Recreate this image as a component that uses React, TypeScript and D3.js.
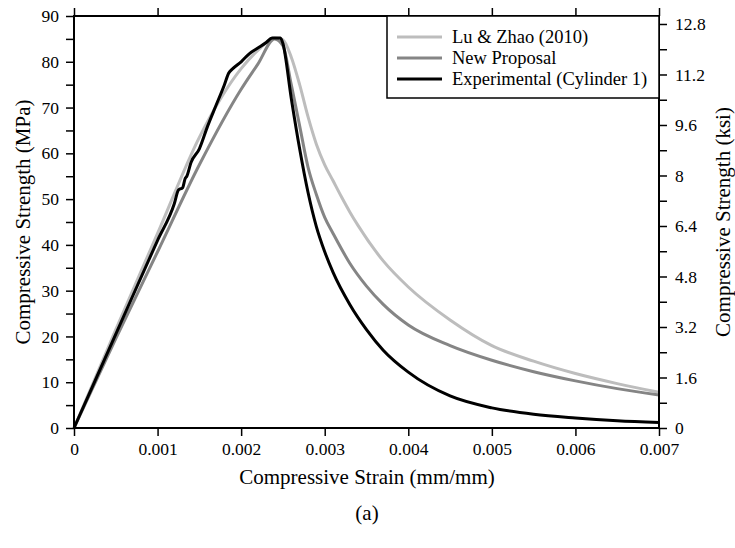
import React, { useRef, useEffect } from 'react';
import { select, scaleLinear, axisLeft, axisRight, axisBottom, axisTop, line, range, curveMonotoneX } from 'd3';

// strain (mm/mm) and stress (MPa)
const luStrain = [0, 0.0005, 0.001, 0.0015, 0.002, 0.0022, 0.0024, 0.0025, 0.0026, 0.0027, 0.0028, 0.0029, 0.003, 0.0031, 0.0032, 0.0033, 0.0034, 0.0037, 0.004, 0.0045, 0.005, 0.0055, 0.006, 0.0065, 0.007];
const luStress = [0, 21.5, 42.5, 63.5, 78.5, 82.5, 85.2, 84.8, 81, 75, 68, 62, 57.5, 54, 50.5, 47.2, 44.2, 36.5, 30.8, 23.6, 18, 14.6, 11.9, 9.7, 7.8];

const newStrain = [0, 0.0005, 0.001, 0.0015, 0.002, 0.0022, 0.0024, 0.0025, 0.0026, 0.0027, 0.0028, 0.0029, 0.003, 0.0031, 0.0033, 0.0035, 0.0037, 0.004, 0.0045, 0.005, 0.0055, 0.006, 0.0065, 0.007];
const newStress = [0, 19.5, 38.5, 57.5, 74, 79.5, 85, 83.5, 75, 66, 57, 51, 46, 42.5, 36, 31, 27, 22.5, 18, 14.8, 12.3, 10.3, 8.6, 7.2];

const expStrain = [0, 0.0005, 0.001, 0.0012, 0.00125, 0.0013, 0.00133, 0.00135, 0.0014, 0.0015, 0.0016, 0.0017, 0.0018, 0.00185, 0.0019, 0.002, 0.0021, 0.0022, 0.0023, 0.00237, 0.00247, 0.0025, 0.0026, 0.0027, 0.0028, 0.0029, 0.003, 0.0031, 0.0033, 0.0035, 0.0037, 0.004, 0.0045, 0.005, 0.0055, 0.006, 0.0065, 0.007];
const expStress = [0, 20.5, 41, 49, 52, 52.5, 54.5, 55, 58, 61, 66, 70.5, 75, 77.5, 78.5, 80, 81.8, 83, 84.2, 85.2, 85.2, 84, 72, 61, 51.5, 44, 38.5, 34, 27, 21.5, 17, 12.2, 7, 4.4, 3, 2.2, 1.6, 1.2];

const strainTicks = [0, 0.001, 0.002, 0.003, 0.004, 0.005, 0.006, 0.007];
const mpaTicks = [0, 10, 20, 30, 40, 50, 60, 70, 80, 90];
const ksiTicks = [0, 1.6, 3.2, 4.8, 6.4, 8, 9.6, 11.2, 12.8];

const seriesNames = ['Lu & Zhao (2010)', 'New Proposal', 'Experimental (Cylinder 1)'];
const seriesColors = ['#bdbdbd', '#858585', '#000000'];

const MPA_PER_KSI = 6.895;
const FONT = 'Liberation Serif';

export default function App() {
  const svgRef = useRef(null);

  useEffect(() => {
    const svg = select(svgRef.current);
    svg.selectAll('*').remove();

    const left = 74, right = 659, top = 16, bottom = 428;

    const x = scaleLinear().domain([0, 0.007]).range([left, right]);
    const y = scaleLinear().domain([0, 90]).range([bottom, top]);
    const yKsi = scaleLinear().domain([0, 90 / MPA_PER_KSI]).range([bottom, top]);

    const styleAxis = (g) => {
      g.attr('font-family', FONT).attr('font-size', 17.5);
      g.select('.domain').remove();
      g.selectAll('line').attr('stroke', '#000').attr('stroke-width', 1.5);
      g.selectAll('text').attr('fill', '#000');
    };

    // left: MPa, minor every 5
    svg.append('g').attr('transform', `translate(${left},0)`)
      .call(axisLeft(y).tickValues(range(0, 91, 5)).tickSize(8).tickPadding(7)
        .tickFormat(d => (mpaTicks.includes(d) ? String(d) : '')))
      .call(styleAxis);

    // right: ksi, minor every 0.8
    const ksiAll = range(0, 17).map(i => +(i * 0.8).toFixed(1));
    svg.append('g').attr('transform', `translate(${right},0)`)
      .call(axisRight(yKsi).tickValues(ksiAll).tickSize(8).tickPadding(8)
        .tickFormat(d => (ksiTicks.some(t => Math.abs(t - d) < 1e-6) ? String(d) : '')))
      .call(styleAxis);

    svg.append('g').attr('transform', `translate(0,${bottom})`)
      .call(axisBottom(x).tickValues(strainTicks).tickSize(8).tickPadding(7)
        .tickFormat(d => String(+d.toFixed(3))))
      .call(styleAxis);

    svg.append('g').attr('transform', `translate(0,${top})`)
      .call(axisTop(x).tickValues(strainTicks).tickSize(8).tickFormat(() => ''))
      .call(styleAxis);

    // curves
    const series = [
      { xs: luStrain, ys: luStress },
      { xs: newStrain, ys: newStress },
      { xs: expStrain, ys: expStress },
    ];
    series.forEach((s, i) => {
      const pts = s.xs.map((v, j) => [v, s.ys[j]]);
      const gen = line().x(d => x(d[0])).y(d => y(d[1])).curve(curveMonotoneX);
      svg.append('path')
        .attr('d', gen(pts))
        .attr('fill', 'none')
        .attr('stroke', seriesColors[i])
        .attr('stroke-width', 3)
        .attr('stroke-linejoin', 'round');
    });

    // frame
    svg.append('rect')
      .attr('x', left).attr('y', top)
      .attr('width', right - left).attr('height', bottom - top)
      .attr('fill', 'none').attr('stroke', '#000').attr('stroke-width', 2);

    // legend
    const lg = svg.append('g').attr('font-family', FONT).attr('font-size', 18.5);
    lg.append('rect')
      .attr('x', 387).attr('y', top).attr('width', right - 387).attr('height', 82)
      .attr('fill', '#fff').attr('stroke', '#000').attr('stroke-width', 1.5);
    seriesNames.forEach((name, i) => {
      const base = 43 + i * 21;
      lg.append('line')
        .attr('x1', 397).attr('x2', 442).attr('y1', base - 6).attr('y2', base - 6)
        .attr('stroke', seriesColors[i]).attr('stroke-width', 3);
      lg.append('text')
        .attr('x', 452).attr('y', base)
        .text(name);
    });

    // titles
    const titles = svg.append('g').attr('font-family', FONT).attr('font-size', 21).attr('text-anchor', 'middle');
    titles.append('text')
      .attr('x', 367).attr('y', 484)
      .text('Compressive Strain (mm/mm)');
    titles.append('text')
      .attr('transform', `translate(30,${(top + bottom) / 2}) rotate(-90)`)
      .text('Compressive Strength (MPa)');
    titles.append('text')
      .attr('transform', `translate(730,${(top + bottom) / 2}) rotate(-90)`)
      .text('Compressive Strength (ksi)');
    titles.append('text')
      .attr('x', 367).attr('y', 520)
      .text('(a)');
  }, []);

  return (
    <svg ref={svgRef} width={735} height={548}
      style={{ position: 'absolute', left: 0, top: 0, background: '#fff' }} />
  );
}
